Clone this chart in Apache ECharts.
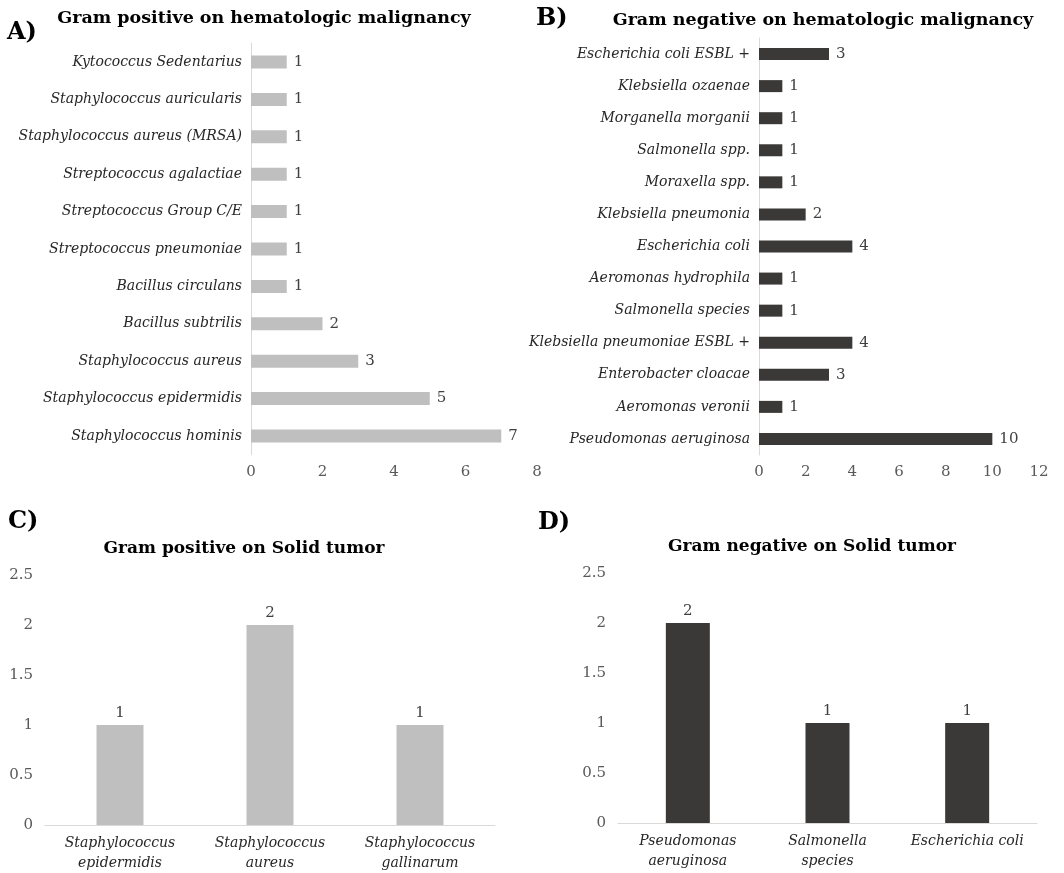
<!DOCTYPE html>
<html>
<head>
<meta charset="utf-8">
<script src="https://cdn.jsdelivr.net/npm/echarts@6/dist/echarts.min.js"></script>
<style>
html,body{margin:0;padding:0;background:#fff;}
#main{width:1064px;height:873px;}
</style>
</head>
<body>
<div id="main"></div>
<script>
// Panel A: Gram positive on hematologic malignancy (top to bottom)
const catsA = ["Kytococcus Sedentarius","Staphylococcus auricularis","Staphylococcus aureus (MRSA)","Streptococcus agalactiae","Streptococcus Group C/E","Streptococcus pneumoniae","Bacillus circulans","Bacillus subtrilis","Staphylococcus aureus","Staphylococcus epidermidis","Staphylococcus hominis"];
const valsA = [1,1,1,1,1,1,1,2,3,5,7];
// Panel B: Gram negative on hematologic malignancy (top to bottom)
const catsB = ["Escherichia coli ESBL +","Klebsiella ozaenae","Morganella morganii","Salmonella spp.","Moraxella spp.","Klebsiella pneumonia","Escherichia coli","Aeromonas hydrophila","Salmonella species","Klebsiella pneumoniae ESBL +","Enterobacter cloacae","Aeromonas veronii","Pseudomonas aeruginosa"];
const valsB = [3,1,1,1,1,2,4,1,1,4,3,1,10];
// Panel C: Gram positive on Solid tumor
const catsC = ["Staphylococcus\nepidermidis","Staphylococcus\naureus","Staphylococcus\ngallinarum"];
const valsC = [1,2,1];
// Panel D: Gram negative on Solid tumor
const catsD = ["Pseudomonas\naeruginosa","Salmonella\nspecies","Escherichia coli"];
const valsD = [2,1,1];

const titles = ["Gram positive on hematologic malignancy","Gram negative on hematologic malignancy","Gram positive on Solid tumor","Gram negative on Solid tumor"];
const panelLetters = ["A)","B)","C)","D)"];

const SERIF = "DejaVu Serif";
const LIGHT = "#bfbfbf";
const DARK = "#3b3838";
const AXISC = "#d9d9d9";

const chart = echarts.init(document.getElementById('main'));

const valueLabel = {show:true, fontFamily:SERIF, fontSize:15, color:'#404040'};
const catFont = 14;

function txt(t, x, y, size, align){
  return {type:'text', x:x, y:y, style:{text:t, font:'bold '+size+'px "'+SERIF+'"', fill:'#000', align:align, verticalAlign:'middle'}};
}

const option = {
  animation:false,
  backgroundColor:'#fff',
  graphic:[
    txt(panelLetters[0], 7, 33, 24, 'left'),
    txt(panelLetters[1], 536, 19, 24, 'left'),
    txt(panelLetters[2], 8, 522, 24, 'left'),
    txt(panelLetters[3], 538, 523, 24, 'left'),
    txt(titles[0], 264, 18, 17.5, 'center'),
    txt(titles[1], 823, 20, 17.5, 'center'),
    txt(titles[2], 244, 549, 17, 'center'),
    txt(titles[3], 812, 547, 17, 'center')
  ],
  grid:[
    {left:251, top:43.3, width:286, height:411.4},
    {left:759, top:38, width:280, height:417},
    {left:45, top:575, width:450, height:251},
    {left:618, top:573, width:419, height:250}
  ],
  xAxis:[
    {gridIndex:0, type:'value', min:0, max:8, interval:2, axisLine:{show:false}, axisTick:{show:false}, splitLine:{show:false},
     axisLabel:{fontFamily:SERIF, fontSize:15, color:'#595959', margin:10}},
    {gridIndex:1, type:'value', min:0, max:12, interval:2, axisLine:{show:false}, axisTick:{show:false}, splitLine:{show:false},
     axisLabel:{fontFamily:SERIF, fontSize:15, color:'#595959', margin:10}},
    {gridIndex:2, type:'category', data:catsC, axisLine:{show:true, lineStyle:{color:AXISC}}, axisTick:{show:false},
     axisLabel:{interval:0, hideOverlap:false, fontFamily:SERIF, fontStyle:'italic', fontSize:catFont, color:'#262626', lineHeight:20, margin:8}},
    {gridIndex:3, type:'category', data:catsD, axisLine:{show:true, lineStyle:{color:AXISC}}, axisTick:{show:false},
     axisLabel:{interval:0, hideOverlap:false, fontFamily:SERIF, fontStyle:'italic', fontSize:catFont, color:'#262626', lineHeight:20, margin:8}}
  ],
  yAxis:[
    {gridIndex:0, type:'category', data:catsA, inverse:true, axisLine:{show:true, lineStyle:{color:AXISC}}, axisTick:{show:false},
     axisLabel:{interval:0, fontFamily:SERIF, fontStyle:'italic', fontSize:catFont, color:'#262626', margin:9}},
    {gridIndex:1, type:'category', data:catsB, inverse:true, axisLine:{show:true, lineStyle:{color:AXISC}}, axisTick:{show:false},
     axisLabel:{interval:0, fontFamily:SERIF, fontStyle:'italic', fontSize:catFont, color:'#262626', margin:9}},
    {gridIndex:2, type:'value', min:0, max:2.5, interval:0.5, axisLine:{show:false}, axisTick:{show:false}, splitLine:{show:false},
     axisLabel:{fontFamily:SERIF, fontSize:15, color:'#595959', margin:12}},
    {gridIndex:3, type:'value', min:0, max:2.5, interval:0.5, axisLine:{show:false}, axisTick:{show:false}, splitLine:{show:false},
     axisLabel:{fontFamily:SERIF, fontSize:15, color:'#595959', margin:12}}
  ],
  series:[
    {type:'bar', xAxisIndex:0, yAxisIndex:0, data:valsA, barWidth:13, itemStyle:{color:LIGHT},
     label:Object.assign({position:'right', distance:7}, valueLabel)},
    {type:'bar', xAxisIndex:1, yAxisIndex:1, data:valsB, barWidth:12, itemStyle:{color:DARK},
     label:Object.assign({position:'right', distance:7}, valueLabel)},
    {type:'bar', xAxisIndex:2, yAxisIndex:2, data:valsC, barWidth:47, itemStyle:{color:LIGHT},
     label:Object.assign({position:'top', distance:4}, valueLabel)},
    {type:'bar', xAxisIndex:3, yAxisIndex:3, data:valsD, barWidth:44, itemStyle:{color:DARK},
     label:Object.assign({position:'top', distance:4}, valueLabel)}
  ]
};
chart.setOption(option);
</script>
</body>
</html>
